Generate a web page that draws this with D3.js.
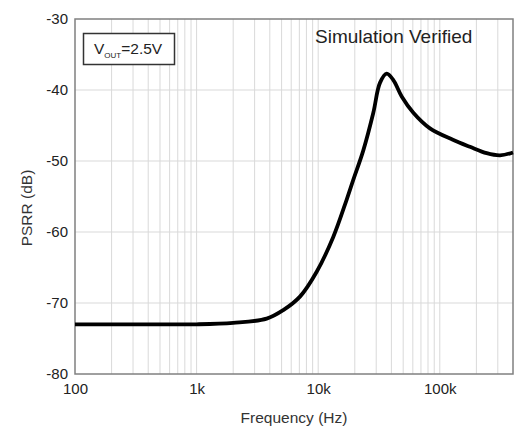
<!DOCTYPE html>
<html><head><meta charset="utf-8">
<script src="https://cdn.jsdelivr.net/npm/d3@7/dist/d3.min.js"></script>
<style>body{margin:0;background:#fff;}text{font-family:"Liberation Sans",Arial,sans-serif;}</style>
</head><body><svg id="c" width="518" height="439"></svg>
<script>
const freq = [100, 300, 1000, 2000, 3770, 5160, 7080, 9720, 13300, 17100, 19400, 23500, 28400, 32200, 36600, 41500, 48600, 60600, 83000, 128000, 177000, 243000, 313000, 400000];
const psrr = [-73, -73, -73, -72.8, -72.2, -71.0, -69.1, -65.6, -60.7, -55.5, -52.7, -48.5, -43.2, -39.0, -37.7, -38.6, -40.9, -43.2, -45.4, -47.0, -48.0, -48.9, -49.2, -48.8];
const xTicks = [100, 1000, 10000, 100000];
const xTickLabels = ["100", "1k", "10k", "100k"];
const yTicks = [-30, -40, -50, -60, -70, -80];
const yTickLabels = ["-30", "-40", "-50", "-60", "-70", "-80"];

const svg = d3.select("#c");
const L = 75, R = 513, T = 19, B = 374;
const x = d3.scaleLog().domain([100, 400000]).range([L, R]);
const y = d3.scaleLinear().domain([-80, -30]).range([B, T]);

// minor grid
const minor = [];
for (let dec = 100; dec < 400000; dec *= 10) for (let k = 1; k < 10; k++) { const v = dec * k; if (v > 100 && v < 400000) minor.push(v); }
svg.append("g").selectAll("line").data(minor).join("line")
  .attr("x1", d => x(d)).attr("x2", d => x(d)).attr("y1", T).attr("y2", B)
  .attr("stroke", "#d9d9d9").attr("stroke-width", 1);
svg.append("g").selectAll("line").data(yTicks.slice(1, -1)).join("line")
  .attr("x1", L).attr("x2", R).attr("y1", d => y(d)).attr("y2", d => y(d))
  .attr("stroke", "#d9d9d9").attr("stroke-width", 1);

svg.append("rect").attr("x", L).attr("y", T).attr("width", R - L).attr("height", B - T)
  .attr("fill", "none").attr("stroke", "#808080").attr("stroke-width", 1.5);

// axes labels
const yAxis = d3.axisLeft(y).tickValues(yTicks).tickFormat((d, i) => yTickLabels[i]).tickSize(0).tickPadding(7);
const gy = svg.append("g").attr("transform", `translate(${L},0)`).call(yAxis);
gy.select(".domain").remove();
gy.selectAll("text").attr("font-size", 15).attr("fill", "#222").attr("font-family", "Liberation Sans, Arial, sans-serif");

const xAxis = d3.axisBottom(x).tickValues(xTicks).tickFormat((d, i) => xTickLabels[i]).tickSize(0).tickPadding(9);
const gx = svg.append("g").attr("transform", `translate(0,${B})`).call(xAxis);
gx.select(".domain").remove();
gx.selectAll("text").attr("font-size", 15).attr("fill", "#222").attr("font-family", "Liberation Sans, Arial, sans-serif");

svg.append("text").attr("x", 294).attr("y", 423).attr("text-anchor", "middle")
  .attr("font-size", 15.5).attr("fill", "#333").text("Frequency (Hz)");
svg.append("text").attr("transform", "translate(32,208) rotate(-90)").attr("text-anchor", "middle")
  .attr("font-size", 15.5).attr("fill", "#333").text("PSRR (dB)");

// curve
const line = d3.line().x((d, i) => x(freq[i])).y((d, i) => y(psrr[i])).curve(d3.curveCatmullRom.alpha(0.5));
svg.append("path").datum(psrr).attr("d", line).attr("fill", "none")
  .attr("stroke", "#000").attr("stroke-width", 3.8).attr("stroke-linejoin", "round");

// annotations
svg.append("text").attr("x", 315).attr("y", 43).attr("text-anchor", "start")
  .attr("font-size", 19).attr("fill", "#222").text("Simulation Verified");
svg.append("rect").attr("x", 83.5).attr("y", 33.5).attr("width", 91).attr("height", 31)
  .attr("fill", "#fff").attr("stroke", "#333").attr("stroke-width", 1.5);
const vt = svg.append("text").attr("x", 94).attr("y", 54).attr("font-size", 15.5).attr("fill", "#222");
vt.append("tspan").text("V");
vt.append("tspan").attr("font-size", 8).attr("dy", 4).text("OUT");
vt.append("tspan").attr("dy", -4).text("=2.5V");
</script></body></html>
